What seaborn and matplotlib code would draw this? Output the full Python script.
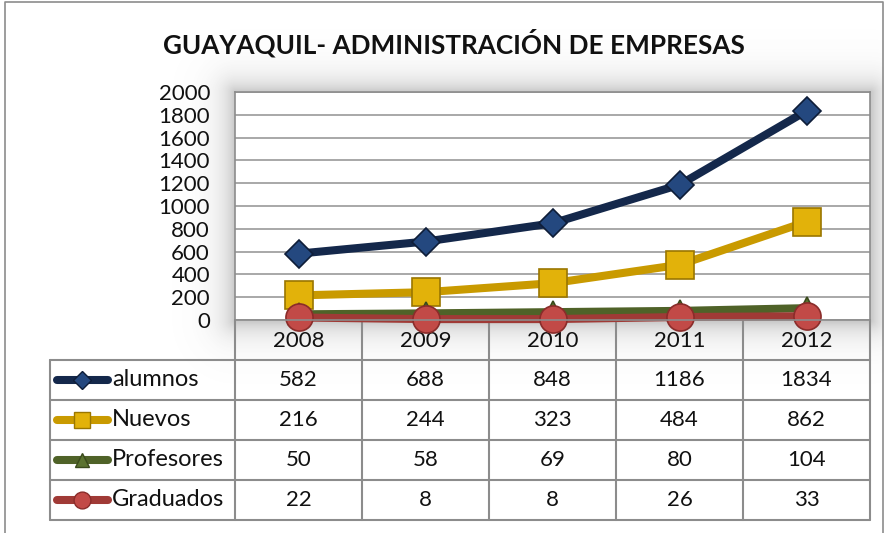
import numpy as np
import pandas as pd
import matplotlib
matplotlib.use("Agg")
import matplotlib.pyplot as plt
import seaborn as sns

years = ["2008", "2009", "2010", "2011", "2012"]
series_names = ["alumnos", "Nuevos", "Profesores", "Graduados"]
alumnos = [582, 688, 848, 1186, 1834]
nuevos = [216, 244, 323, 484, 862]
profesores = [50, 58, 69, 80, 104]
graduados = [22, 8, 8, 26, 33]
y_ticks = [0, 200, 400, 600, 800, 1000, 1200, 1400, 1600, 1800, 2000]
title = "GUAYAQUIL- ADMINISTRACIÓN DE EMPRESAS"

values = [alumnos, nuevos, profesores, graduados]
df = pd.DataFrame({
    "year": np.tile(np.arange(len(years)), len(series_names)),
    "serie": np.repeat(series_names, len(years)),
    "valor": np.concatenate(values),
})

sns.set_theme(style="white")
plt.rcParams["font.family"] = ["Lato", "DejaVu Sans"]

line_colors = {"alumnos": "#14284b", "Nuevos": "#c99a00",
               "Profesores": "#4f6228", "Graduados": "#a03a36"}
face_colors = {"alumnos": "#24487f", "Nuevos": "#e2b20a",
               "Profesores": "#5b7330", "Graduados": "#c24a47"}
edge_colors = {"alumnos": "#0e1d38", "Nuevos": "#9a7600",
               "Profesores": "#3a4a1c", "Graduados": "#8a2c2a"}
markers = {"alumnos": "D", "Nuevos": "s", "Profesores": "^", "Graduados": "o"}
msizes = {"alumnos": 14.5, "Nuevos": 19.5, "Profesores": 16, "Graduados": 19.5}

W, H = 884, 533
fig = plt.figure(figsize=(W / 100, H / 100), dpi=100)

# pixel-space canvas for frame, shadow and data table
bg = fig.add_axes([0, 0, 1, 1], zorder=0)
bg.set_xlim(0, W)
bg.set_ylim(H, 0)
bg.axis("off")

px0, px1, py0, py1 = 235, 870, 92, 320  # plot area in pixels

# soft drop shadow around the plot area
yy, xx = np.mgrid[0:H, 0:W]
dx = np.maximum(np.maximum(px0 - xx, xx - px1), 0)
dy = np.maximum(np.maximum(py0 - yy, yy - py1), 0)
d = np.hypot(dx, dy)
alpha = 0.36 * np.exp(-d / 14.0)
shade = np.zeros((H, W, 4))
shade[..., :3] = 0.38
shade[..., 3] = alpha
bg.imshow(shade, extent=(0, W, H, 0), interpolation="bilinear", zorder=0)

# outer chart frame
bg.plot([5, 5, 883, 883], [H + 5, 2, 2, H + 5], color="#8c8c8c", lw=1.2, zorder=1)

fig.text(454 / W, 1 - 43 / H, title, ha="center", va="center",
         fontsize=18.8, fontweight="bold", color="#111111")

# main line chart
ax = fig.add_axes([px0 / W, 1 - py1 / H, (px1 - px0) / W, (py1 - py0) / H], zorder=2)
ax.set_facecolor("white")
for name in series_names:
    sub = df[df["serie"] == name]
    sns.lineplot(data=sub, x="year", y="valor", ax=ax, color=line_colors[name],
                 linewidth=5.8, marker=markers[name], markersize=msizes[name],
                 markerfacecolor=face_colors[name], markeredgecolor=edge_colors[name],
                 markeredgewidth=1.2, legend=False, clip_on=False)
ax.set_xlim(-0.5, len(years) - 0.5)
ax.set_ylim(0, 2000)
ax.set_yticks(y_ticks)
ax.set_yticklabels([str(t) for t in y_ticks], fontsize=16, color="#111111")
ax.tick_params(axis="y", length=0, pad=18)
ax.set_xticks([])
ax.set_xlabel("")
ax.set_ylabel("")
ax.grid(axis="y", color="#9a9a9a", lw=1.2)
ax.set_axisbelow(True)
for s in ax.spines.values():
    s.set_color("#8c8c8c")
    s.set_linewidth(1.2)

# data table below the chart
col_w = (px1 - px0) / len(years)
col_edges = [px0 + i * col_w for i in range(len(years) + 1)]
row_top, row_h = 360, 40
tab_left = 50
grid_kw = dict(color="#8c8c8c", lw=1.5, zorder=3)
for x in col_edges:
    bg.plot([x, x], [py1, row_top + 4 * row_h], **grid_kw)
bg.plot([tab_left, tab_left], [row_top, row_top + 4 * row_h], **grid_kw)
for r in range(5):
    y = row_top + r * row_h
    bg.plot([tab_left, px1], [y, y], **grid_kw)

for i, yr in enumerate(years):
    bg.text(px0 + (i + 0.5) * col_w, 341, yr, ha="center", va="center",
            fontsize=16, color="#111111", zorder=4)

for r, name in enumerate(series_names):
    yc = row_top + (r + 0.5) * row_h
    bg.plot([57, 108], [yc, yc], color=line_colors[name], lw=5.8,
            solid_capstyle="round", zorder=4)
    bg.plot([82], [yc], marker=markers[name], markersize=msizes[name] * 0.62,
            markerfacecolor=face_colors[name], markeredgecolor=edge_colors[name],
            markeredgewidth=1, zorder=5)
    bg.text(112, yc, name, ha="left", va="center", fontsize=17,
            color="#111111", zorder=4)
    for i, v in enumerate(values[r]):
        bg.text(px0 + (i + 0.5) * col_w, yc, str(v), ha="center", va="center",
                fontsize=16, color="#111111", zorder=4)

fig.savefig("out.png", dpi=100)
